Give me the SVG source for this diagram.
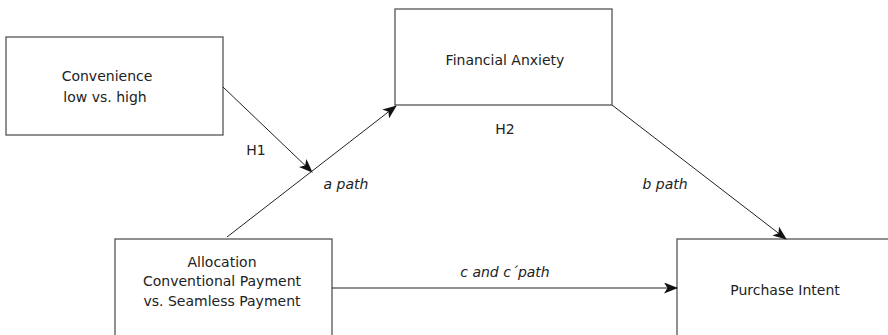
<svg xmlns="http://www.w3.org/2000/svg" width="888" height="335" viewBox="0 0 888 335">
<style>
.box{fill:#fff;stroke:#555;stroke-width:1.3}
.t{font-family:"DejaVu Sans",Verdana,sans-serif;font-size:14px;fill:#222;text-anchor:middle}
.i{font-style:italic}
.c{stroke:#222;stroke-width:1;fill:none;marker-end:url(#ah)}
</style>
<defs>
<marker id="ah" viewBox="0 0 14 11" refX="13" refY="5.5" markerWidth="14" markerHeight="11" markerUnits="userSpaceOnUse" orient="auto">
<path d="M0,0 L14,5.5 L0,11 L3.5,5.5 Z" fill="#111"/>
</marker>
</defs>
<rect width="888" height="335" fill="#fff"/>
<g id="convenience">
<rect class="box" x="6" y="37" width="217" height="98"/>
<text class="t" x="107" y="81">Convenience</text>
<text class="t" x="105" y="102">low vs. high</text>
</g>
<g id="financial-anxiety">
<rect class="box" x="395" y="9" width="217" height="96"/>
<text class="t" x="505" y="65">Financial Anxiety</text>
</g>
<g id="allocation">
<rect class="box" x="115" y="239" width="217" height="110"/>
<text class="t" x="222" y="267">Allocation</text>
<text class="t" x="222" y="286">Conventional Payment</text>
<text class="t" x="222" y="306">vs. Seamless Payment</text>
</g>
<g id="purchase-intent">
<rect class="box" x="677" y="239" width="220" height="110"/>
<text class="t" x="785" y="295">Purchase Intent</text>
</g>
<g id="connectors">
<line class="c" x1="223" y1="87" x2="312" y2="172"/>
<line class="c" x1="227" y1="237" x2="396" y2="106"/>
<line class="c" x1="612" y1="105" x2="786" y2="239"/>
<line class="c" x1="332" y1="288" x2="677" y2="288"/>
</g>
<g id="labels">
<text class="t" x="256" y="155">H1</text>
<text class="t i" x="346" y="189">a path</text>
<text class="t" x="505" y="134">H2</text>
<text class="t i" x="665" y="189">b path</text>
<text class="t i" x="505" y="277">c and c´path</text>
</g>
</svg>
